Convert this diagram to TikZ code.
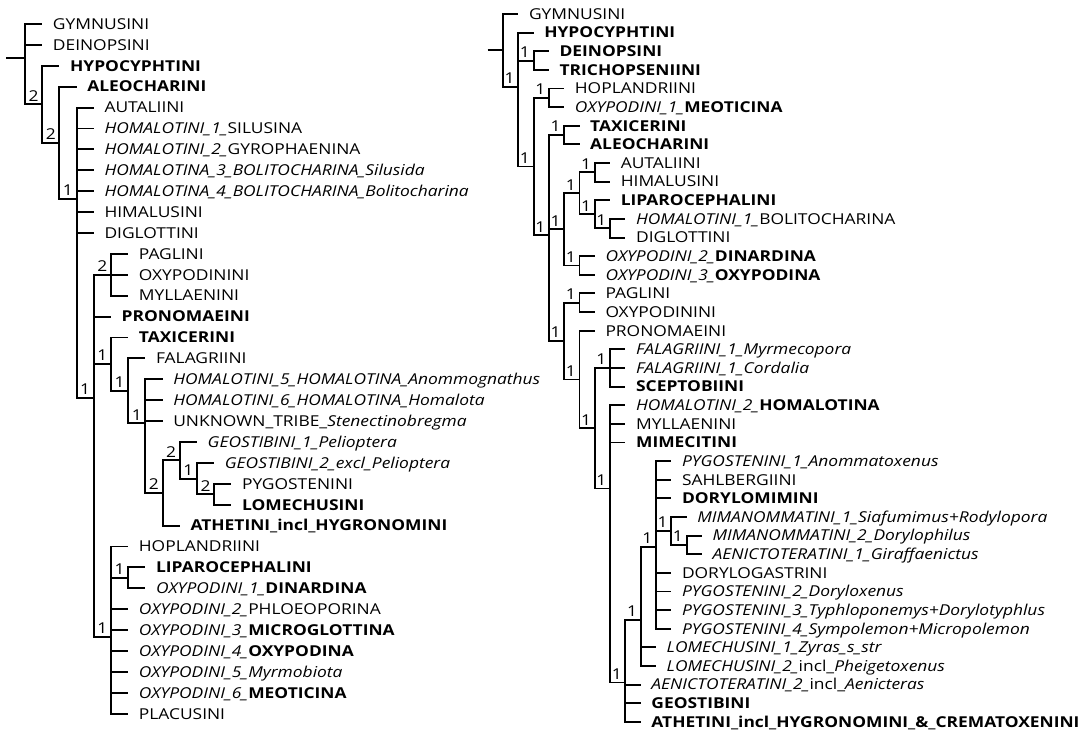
\documentclass[tikz,border=0pt]{standalone}
\usepackage{fontspec}
\setmainfont{Open Sans}[FakeStretch=1.16]
\newcommand\tleaf[5]{%
  \coordinate (#1) at (#3,#4);
  \draw[branch] (#2) |- (#1);
  \node[leaf] (#1-t) at (#1) {#5};
}
\newcommand\tedge[3]{%
  \draw[branch] (#1) |- (#2);
  \node[bsup] (#2-s) at (#2) {#3};
}
\begin{document}
\begin{tikzpicture}[x=1pt,y=-1pt,
  branch/.style={line width=1.9pt, line join=miter},
  leaf/.style={anchor=base west, inner sep=0pt, xshift=10.5pt, yshift=-5.3pt, font=\fontsize{15}{17}\selectfont},
  bsup/.style={anchor=base east, inner sep=0pt, xshift=-3.5pt, yshift=3.2pt, font=\fontsize{15}{17}\selectfont}]
\useasboundingbox (0,0) rectangle (1084,735);
% ---------------- left tree ----------------
\begin{scope}[x=17.2pt, y=-20.9pt, xshift=25pt, yshift=-3.1pt]
\coordinate (A) at (0,2.6135);
\coordinate (B) at (1,4.8405);
\coordinate (C) at (2,6.681);
\coordinate (D) at (3,9.362);
\coordinate (E) at (4,18.897);
\coordinate (F) at (5,13);
\coordinate (G) at (5,17.277);
\coordinate (H) at (5,30.3125);
\coordinate (I) at (6,27.5);
\coordinate (J) at (6,18.555);
\coordinate (K) at (7,20.109);
\coordinate (L) at (8,23.4375);
\coordinate (M) at (9,21.875);
\coordinate (N) at (10,22.75);
\coordinate (O) at (11,23.5);
\coordinate (Aroot) at (-1.1,2.6135);
\draw[branch] (Aroot) -- (A);
\tedge{A}{B}{2}
\tedge{B}{C}{2}
\tedge{C}{D}{1}
\tedge{D}{E}{1}
\tedge{E}{F}{2}
\tedge{E}{G}{1}
\tedge{E}{H}{1}
\tedge{H}{I}{1}
\tedge{G}{J}{1}
\tedge{J}{K}{1}
\tedge{K}{L}{2}
\tedge{L}{M}{2}
\tedge{M}{N}{1}
\tedge{N}{O}{2}
\tleaf{l1}{A}{1}{1}{GYMNUSINI}
\tleaf{l2}{A}{1}{2}{DEINOPSINI}
\tleaf{l3}{B}{2}{3}{\textbf{HYPOCYPHTINI}}
\tleaf{l4}{C}{3}{4}{\textbf{ALEOCHARINI}}
\tleaf{l5}{D}{4}{5}{AUTALIINI}
\tleaf{l6}{D}{4}{6}{\textit{HOMALOTINI\_1\_}SILUSINA}
\tleaf{l7}{D}{4}{7}{\textit{HOMALOTINI\_2\_}GYROPHAENINA}
\tleaf{l8}{D}{4}{8}{\textit{HOMALOTINA\_3\_BOLITOCHARINA\_Silusida}}
\tleaf{l9}{D}{4}{9}{\textit{HOMALOTINA\_4\_BOLITOCHARINA\_Bolitocharina}}
\tleaf{l10}{D}{4}{10}{HIMALUSINI}
\tleaf{l11}{D}{4}{11}{DIGLOTTINI}
\tleaf{l12}{F}{6}{12}{PAGLINI}
\tleaf{l13}{F}{6}{13}{OXYPODININI}
\tleaf{l14}{F}{6}{14}{MYLLAENINI}
\tleaf{l15}{E}{5}{15}{\textbf{PRONOMAEINI}}
\tleaf{l16}{G}{6}{16}{\textbf{TAXICERINI}}
\tleaf{l17}{J}{7}{17}{FALAGRIINI}
\tleaf{l18}{K}{8}{18}{\textit{HOMALOTINI\_5\_HOMALOTINA\_Anommognathus}}
\tleaf{l19}{K}{8}{19}{\textit{HOMALOTINI\_6\_HOMALOTINA\_Homalota}}
\tleaf{l20}{K}{8}{20}{UNKNOWN\_TRIBE\_\textit{Stenectinobregma}}
\tleaf{l21}{M}{10}{21}{\textit{GEOSTIBINI\_1\_Pelioptera}}
\tleaf{l22}{N}{11}{22}{\textit{GEOSTIBINI\_2\_excl\_Pelioptera}}
\tleaf{l23}{O}{12}{23}{PYGOSTENINI}
\tleaf{l24}{O}{12}{24}{\textbf{LOMECHUSINI}}
\tleaf{l25}{L}{9}{25}{\textbf{ATHETINI\_incl\_HYGRONOMINI}}
\tleaf{l26}{H}{6}{26}{HOPLANDRIINI}
\tleaf{l27}{I}{7}{27}{\textbf{LIPAROCEPHALINI}}
\tleaf{l28}{I}{7}{28}{\textit{OXYPODINI\_1\_}\textbf{DINARDINA}}
\tleaf{l29}{H}{6}{29}{\textit{OXYPODINI\_2\_}PHLOEOPORINA}
\tleaf{l30}{H}{6}{30}{\textit{OXYPODINI\_3\_}\textbf{MICROGLOTTINA}}
\tleaf{l31}{H}{6}{31}{\textit{OXYPODINI\_4\_}\textbf{OXYPODINA}}
\tleaf{l32}{H}{6}{32}{\textit{OXYPODINI\_5\_Myrmobiota}}
\tleaf{l33}{H}{6}{33}{\textit{OXYPODINI\_6\_}\textbf{MEOTICINA}}
\tleaf{l34}{H}{6}{34}{PLACUSINI}
\end{scope}
% ---------------- right tree ----------------
\begin{scope}[x=15.3pt, y=-18.63pt, xshift=503pt, yshift=4.63pt]
\coordinate (R0) at (0,2.948);
\coordinate (R1) at (1,4.896);
\coordinate (DT) at (2,3.5);
\coordinate (R3) at (2,9.187);
\coordinate (HO) at (3,5.5);
\coordinate (R4) at (3,12.874);
\coordinate (TA) at (4,7.5);
\coordinate (R5) at (4,12.5625);
\coordinate (R6) at (4,18.559);
\coordinate (R7) at (5,10.625);
\coordinate (OX) at (5,14.5);
\coordinate (PO) at (5,16.5);
\coordinate (R9) at (5,20.618);
\coordinate (AH) at (6,9.5);
\coordinate (R8) at (6,11.75);
\coordinate (R10) at (6,23.235);
\coordinate (HD) at (7,12.5);
\coordinate (FS) at (7,20);
\coordinate (R11) at (7,26.471);
\coordinate (R13) at (8,36.883);
\coordinate (R14) at (9,33.531);
\coordinate (R15) at (10,29.594);
\coordinate (R16) at (11,28.75);
\coordinate (R17) at (12,29.5);
\coordinate (Rroot) at (-1,2.948);
\draw[branch] (Rroot) -- (R0);
\tedge{R0}{R1}{1}
\tedge{R1}{DT}{1}
\tedge{R1}{R3}{1}
\tedge{R3}{HO}{1}
\tedge{R3}{R4}{1}
\tedge{R4}{TA}{1}
\tedge{R4}{R5}{1}
\tedge{R4}{R6}{1}
\tedge{R5}{R7}{1}
\tedge{R5}{OX}{1}
\tedge{R7}{AH}{1}
\tedge{R7}{R8}{1}
\tedge{R8}{HD}{1}
\tedge{R6}{PO}{1}
\tedge{R6}{R9}{1}
\tedge{R9}{R10}{1}
\tedge{R10}{FS}{1}
\tedge{R10}{R11}{1}
\tedge{R11}{R13}{1}
\tedge{R13}{R14}{1}
\tedge{R14}{R15}{1}
\tedge{R15}{R16}{1}
\tedge{R16}{R17}{1}
\tleaf{r1}{R0}{1}{1}{GYMNUSINI}
\tleaf{r2}{R1}{2}{2}{\textbf{HYPOCYPHTINI}}
\tleaf{r3}{DT}{3}{3}{\textbf{DEINOPSINI}}
\tleaf{r4}{DT}{3}{4}{\textbf{TRICHOPSENIINI}}
\tleaf{r5}{HO}{4}{5}{HOPLANDRIINI}
\tleaf{r6}{HO}{4}{6}{\textit{OXYPODINI\_1\_}\textbf{MEOTICINA}}
\tleaf{r7}{TA}{5}{7}{\textbf{TAXICERINI}}
\tleaf{r8}{TA}{5}{8}{\textbf{ALEOCHARINI}}
\tleaf{r9}{AH}{7}{9}{AUTALIINI}
\tleaf{r10}{AH}{7}{10}{HIMALUSINI}
\tleaf{r11}{R8}{7}{11}{\textbf{LIPAROCEPHALINI}}
\tleaf{r12}{HD}{8}{12}{\textit{HOMALOTINI\_1\_}BOLITOCHARINA}
\tleaf{r13}{HD}{8}{13}{DIGLOTTINI}
\tleaf{r14}{OX}{6}{14}{\textit{OXYPODINI\_2\_}\textbf{DINARDINA}}
\tleaf{r15}{OX}{6}{15}{\textit{OXYPODINI\_3\_}\textbf{OXYPODINA}}
\tleaf{r16}{PO}{6}{16}{PAGLINI}
\tleaf{r17}{PO}{6}{17}{OXYPODININI}
\tleaf{r18}{R9}{6}{18}{PRONOMAEINI}
\tleaf{r19}{FS}{8}{19}{\textit{FALAGRIINI\_1\_Myrmecopora}}
\tleaf{r20}{FS}{8}{20}{\textit{FALAGRIINI\_1\_Cordalia}}
\tleaf{r21}{FS}{8}{21}{\textbf{SCEPTOBIINI}}
\tleaf{r22}{R11}{8}{22}{\textit{HOMALOTINI\_2\_}\textbf{HOMALOTINA}}
\tleaf{r23}{R11}{8}{23}{MYLLAENINI}
\tleaf{r24}{R11}{8}{24}{\textbf{MIMECITINI}}
\tleaf{r25}{R15}{11}{25}{\textit{PYGOSTENINI\_1\_Anommatoxenus}}
\tleaf{r26}{R15}{11}{26}{SAHLBERGIINI}
\tleaf{r27}{R15}{11}{27}{\textbf{DORYLOMIMINI}}
\tleaf{r28}{R16}{12}{28}{\textit{MIMANOMMATINI\_1\_Siafumimus+Rodylopora}}
\tleaf{r29}{R17}{13}{29}{\textit{MIMANOMMATINI\_2\_Dorylophilus}}
\tleaf{r30}{R17}{13}{30}{\textit{AENICTOTERATINI\_1\_Giraffaenictus}}
\tleaf{r31}{R15}{11}{31}{DORYLOGASTRINI}
\tleaf{r32}{R15}{11}{32}{\textit{PYGOSTENINI\_2\_Doryloxenus}}
\tleaf{r33}{R15}{11}{33}{\textit{PYGOSTENINI\_3\_Typhloponemys+Dorylotyphlus}}
\tleaf{r34}{R15}{11}{34}{\textit{PYGOSTENINI\_4\_Sympolemon+Micropolemon}}
\tleaf{r35}{R14}{10}{35}{\textit{LOMECHUSINI\_1\_Zyras\_s\_str}}
\tleaf{r36}{R14}{10}{36}{\textit{LOMECHUSINI\_2\_}incl\_\textit{Pheigetoxenus}}
\tleaf{r37}{R13}{9}{37}{\textit{AENICTOTERATINI\_2\_}incl\_\textit{Aenicteras}}
\tleaf{r38}{R13}{9}{38}{\textbf{GEOSTIBINI}}
\tleaf{r39}{R13}{9}{39}{\textbf{ATHETINI\_incl\_HYGRONOMINI\_\&\_CREMATOXENINI}}
\end{scope}
\end{tikzpicture}
\end{document}
